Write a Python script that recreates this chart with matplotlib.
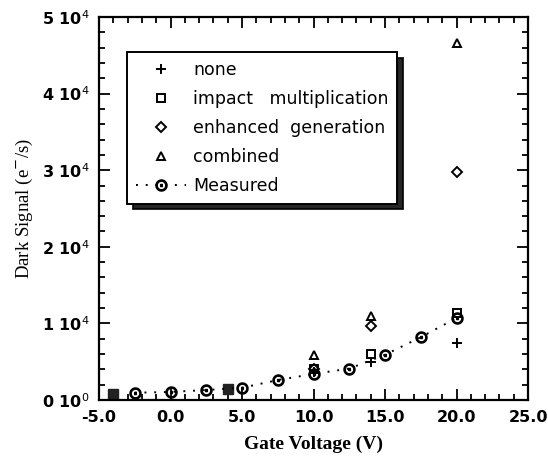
import numpy as np
import matplotlib
matplotlib.use("Agg")
import matplotlib.pyplot as plt
from matplotlib.ticker import MultipleLocator, FixedLocator


# ============================================
# DATA
# ============================================
model_v = [10.0, 14.0, 20.0]
none_sig = [3600, 5000, 7500]
impact_sig = [4100, 6000, 11300]
enhanced_sig = [4100, 9600, 29700]
combined_sig = [5900, 11000, 46600]

# points where all four models coincide (drawn as a filled block)
overlap_v = [-4.0, 4.0]
overlap_sig = [800, 1500]

meas_v = [-2.5, 0.0, 2.5, 5.0, 7.5, 10.0, 12.5, 15.0, 17.5, 20.0]
meas_sig = [950, 1050, 1300, 1600, 2600, 3400, 4100, 5900, 8200, 10700]

xticks = [-5, 0, 5, 10, 15, 20, 25]
yticks = [0, 10000, 20000, 30000, 40000, 50000]
ytick_labels = [r"0 10$^0$", r"1 10$^4$", r"2 10$^4$", r"3 10$^4$", r"4 10$^4$", r"5 10$^4$"]

# ============================================
# FIGURE
# ============================================
plt.rcParams["font.family"] = ["DejaVu Sans"]
plt.rcParams["mathtext.fontset"] = "dejavusans"

fig = plt.figure(figsize=(5.48, 4.58), dpi=100)
ax = fig.add_axes([99 / 548, 58 / 458, 429 / 548, 383 / 458])

ms = 6
ax.plot(model_v, none_sig, ls="none", marker="+", ms=ms + 1, mew=1.4, color="k", label="none")
ax.plot(model_v, impact_sig, ls="none", marker="s", ms=ms, mew=1.4, mfc="none", color="k",
        label="impact   multiplication")
ax.plot(model_v, enhanced_sig, ls="none", marker="D", ms=ms - 1, mew=1.4, mfc="none", color="k",
        label="enhanced  generation")
ax.plot(model_v, combined_sig, ls="none", marker="^", ms=ms, mew=1.4, mfc="none", color="k",
        label="combined")
ax.plot(overlap_v, overlap_sig, ls="none", marker="s", ms=ms + 1, color="#222222")
ax.plot(meas_v, meas_sig, ls=(0, (1, 4)), lw=1.4, marker=r"$\odot$", ms=8, color="k",
        label="Measured")

ax.set_xlim(-5, 25)
ax.set_ylim(0, 50000)
ax.xaxis.set_major_locator(FixedLocator(xticks))
ax.xaxis.set_minor_locator(MultipleLocator(1))
ax.yaxis.set_major_locator(FixedLocator(yticks))
ax.yaxis.set_minor_locator(MultipleLocator(2000))
ax.set_xticklabels([f"{v:.1f}" for v in xticks])
ax.set_yticklabels(ytick_labels)

ax.tick_params(which="both", direction="in", top=True, right=True, width=1.3)
ax.tick_params(which="major", length=8, labelsize=11.5, pad=7)
ax.tick_params(which="minor", length=4)
for lab in ax.get_xticklabels() + ax.get_yticklabels():
    lab.set_fontweight("bold")
for sp in ax.spines.values():
    sp.set_linewidth(1.6)

serif = ["Liberation Serif", "DejaVu Serif"]
ax.set_xlabel("Gate Voltage (V)", family=serif, fontsize=14, fontweight="bold", labelpad=8)
ax.set_ylabel(r"Dark Signal (e$^{-}$/s)", family=serif, fontsize=13.5, labelpad=5)

leg = ax.legend(loc="upper left", bbox_to_anchor=(127 / 548, 1 - 52 / 458),
                bbox_transform=fig.transFigure, borderaxespad=0, fontsize=12.5,
                labelspacing=0.64, handlelength=2.9, handletextpad=0.4, borderpad=0.5,
                fancybox=False, edgecolor="k", framealpha=1,
                shadow={"color": "k", "alpha": 0.85, "ox": 4, "oy": -4})
leg.get_frame().set_linewidth(1.4)

fig.savefig("out.png", dpi=100)
